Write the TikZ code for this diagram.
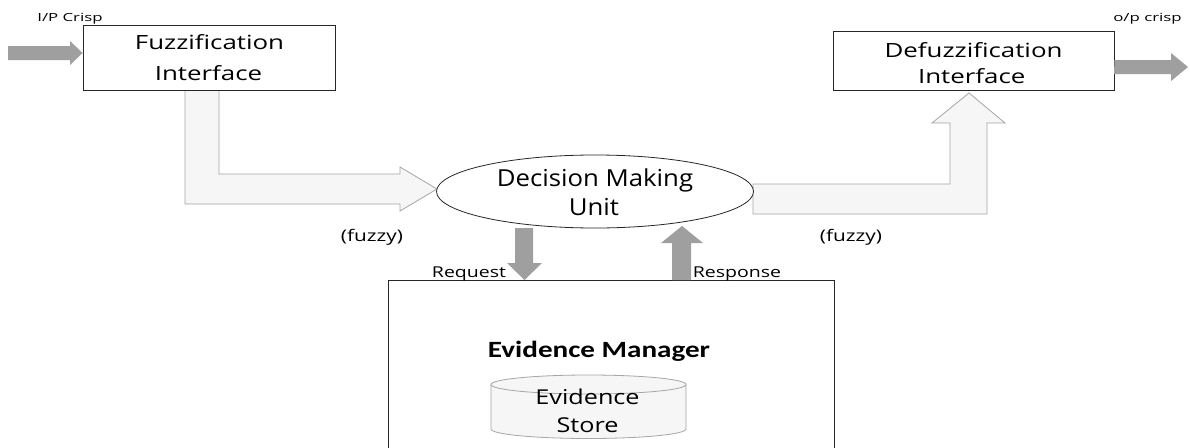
\documentclass[tikz,border=0pt]{standalone}
\usepackage{fontspec}
\setmainfont{Open Sans}
\newfontfamily\fA[FakeStretch=1.32]{Open Sans}
\newfontfamily\fB[FakeStretch=1.1]{Open Sans}
\newfontfamily\fC[FakeStretch=1.23]{Open Sans}
\newfontfamily\fD[FakeStretch=1.3]{Open Sans}
\newfontfamily\fE[FakeStretch=1.5]{Open Sans}
\newfontfamily\fF[FakeStretch=1.25]{Carlito}
\usetikzlibrary{shapes.geometric}
\begin{document}
\begin{tikzpicture}[x=1pt,y=-1pt,
  box/.style={draw=black!85,line width=0.9pt,fill=white,rectangle,inner sep=0pt},
  lightarrow/.style={draw=gray!70,line width=0.8pt,fill=gray!7},
  darkarrow/.style={fill=gray!75!black!60,draw=none},
  txt/.style={inner sep=0pt,anchor=base},
  boxtxt/.style={txt,font=\fA\fontsize{19.6}{22}\selectfont},
  dmutxt/.style={txt,font=\fB\fontsize{23.4}{26}\selectfont},
  storetxt/.style={txt,font=\fC\fontsize{20.5}{23}\selectfont},
  lbl/.style={txt,font=\fD\fontsize{15}{17}\selectfont},
  fuzzytxt/.style={txt,font=\fD\fontsize{16}{18}\selectfont},
  small/.style={txt,font=\fE\fontsize{11.2}{13}\selectfont}]
\useasboundingbox (0,0) rectangle (1190,447);
\fill[white] (0,0) rectangle (1190,447);

% block arrows (fuzzy)
\path[lightarrow] (185,90) -- (219,90) -- (219,174) -- (400,174) -- (400,167) -- (437,189) -- (400,211) -- (400,204) -- (185,204) -- cycle;
\path[lightarrow] (753,184) -- (950,184) -- (950,123) -- (932,123) -- (969,93) -- (1005,123) -- (987,123) -- (987,214) -- (753,214) -- cycle;

% boxes
\node[box,minimum width=252pt,minimum height=65pt] (fuzz) at (209,57.5) {};
\node[boxtxt] (fuzz1) at (209.5,49) {Fuzzification};
\node[boxtxt] (fuzz2) at (208.5,80) {Interface};
\node[box,minimum width=281pt,minimum height=59pt] (defuzz) at (973.5,60.5) {};
\node[boxtxt] (defuzz1) at (973.5,57) {Defuzzification};
\node[boxtxt] (defuzz2) at (971.7,83) {Interface};
\node[ellipse,draw=black!85,line width=0.8pt,fill=white,minimum width=317pt,minimum height=73pt,inner sep=0pt] (dmu) at (595,191.5) {};
\node[dmutxt] (dmu1) at (595,186) {Decision Making};
\node[dmutxt] (dmu2) at (594,215) {Unit};

% evidence manager
\draw[black!85,line width=0.9pt] (388,455) -- (388,280) -- (834,280) -- (834,455);
\coordinate (emtopL) at (524.5,280);
\coordinate (emtopR) at (681.5,280);
\node[txt,font=\fF\bfseries\fontsize{23.3}{26}\selectfont] (em) at (599,357) {Evidence Manager};
\fill[gray!7] (491,384.5) -- (491,429) arc[start angle=180,end angle=360,x radius=97.5pt,y radius=9.5pt] -- (686,384.5) arc[start angle=0,end angle=180,x radius=97.5pt,y radius=9.5pt];
\draw[gray!70,line width=0.8pt] (491,384.5) -- (491,429) arc[start angle=180,end angle=360,x radius=97.5pt,y radius=9.5pt] -- (686,384.5);
\draw[gray!70,line width=0.8pt] (588.5,384.5) ellipse[x radius=97.5pt,y radius=9.5pt];
\node[storetxt] (store1) at (587.5,404) {Evidence};
\node[storetxt] (store2) at (587.5,432) {Store};

% input / output crisp arrows
\coordinate (in) at (8,53);
\path[darkarrow] (in) ++(0,-7) -- (70,46) -- (70,41) -- (fuzz.west |- in) -- (70,65) -- (70,60) -- ++(-62,0) -- cycle;
\coordinate (out) at (1188,67);
\path[darkarrow] (defuzz.east |- out) ++(0,-7) -- (1171,60) -- (1171,53) -- (out) -- (1171,81) -- (1171,74) -- (1114,74) -- cycle;

% request / response arrows
\path[darkarrow] (515,228) -- (533,228) -- (533,263) -- (542,263) -- (emtopL) -- (507,263) -- (515,263) -- cycle;
\path[darkarrow] (672,280) -- (691,280) -- (691,243) -- (703,243) -- (682,226) -- (661,243) -- (672,243) -- cycle;

% labels
\node[small] (ip) at (70,21) {I/P Crisp};
\node[small] (op) at (1147.5,21) {o/p crisp};
\node[fuzzytxt] (fz1) at (372,241.5) {(fuzzy)};
\node[fuzzytxt] (fz2) at (851,241.5) {(fuzzy)};
\node[lbl] (req) at (469,277) {Request};
\node[lbl] (resp) at (737,277) {Response};
\end{tikzpicture}
\end{document}
